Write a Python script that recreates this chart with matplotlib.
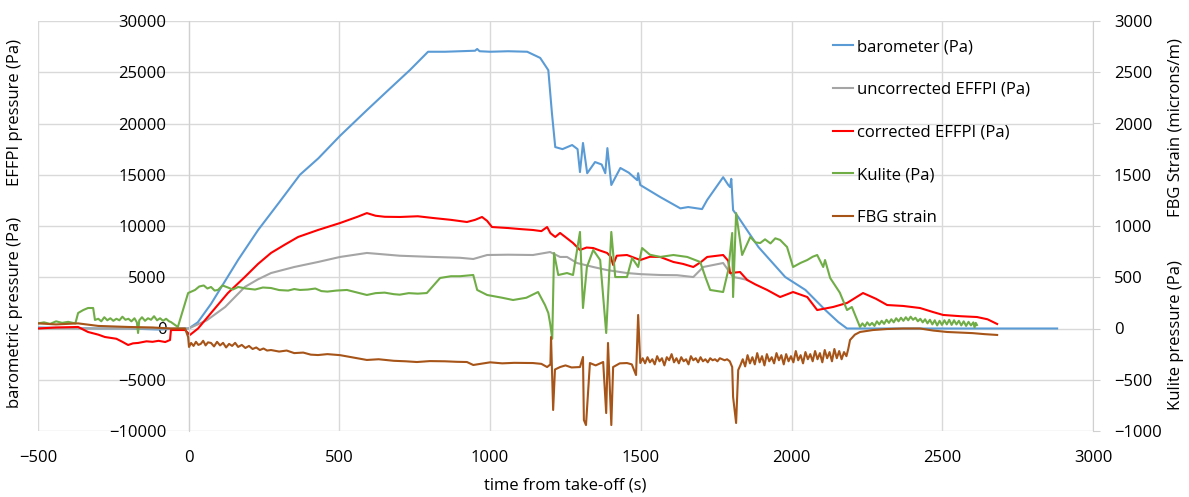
import matplotlib
matplotlib.use("Agg")
import matplotlib.pyplot as plt

plt.rcParams['font.family'] = ['Open Sans', 'DejaVu Sans']
plt.rcParams['font.size'] = 12

# (time from take-off [s], value) pairs
# left axis series in Pa
barometer = [(-500, 100), (-400, 50), (-300, 0), (-200, 0), (-100, -100), (-20, 0), (0, 0),
             (30, 600), (74, 2400), (120, 4600), (164, 6700), (230, 9600), (300, 12300),
             (356, 14490), (369, 15000), (430, 16600), (502, 18800), (591, 21300), (660, 23200),
             (734, 25220), (794, 27000), (850, 27000), (900, 27050), (950, 27100), (957, 27270),
             (965, 27050), (1000, 27000), (1060, 27050), (1123, 27000), (1166, 26400), (1193, 25200),
             (1205, 21000), (1216, 17700), (1240, 17500), (1272, 17900), (1290, 17500), (1298, 15260),
             (1308, 18100), (1322, 15150), (1348, 16240), (1370, 16000), (1382, 15150), (1389, 17600),
             (1402, 14000), (1432, 15660), (1460, 15200), (1488, 14470), (1491, 15150), (1498, 14000),
             (1564, 12830), (1631, 11720), (1657, 11850), (1703, 11650), (1720, 12540), (1773, 14760),
             (1790, 14000), (1796, 13800), (1800, 14600), (1806, 11550), (1823, 10880), (1890, 7950),
             (1979, 5020), (2046, 3760), (2112, 1800), (2155, 630), (2184, 0), (2500, 0), (2881, 0)]

uncorrected = [(-500, 0), (-250, 0), (0, 0), (60, 800), (121, 2100), (186, 4050), (230, 4800),
               (273, 5410), (350, 6000), (429, 6490), (502, 6980), (591, 7370), (700, 7100),
               (811, 6980), (900, 6900), (944, 6780), (990, 7170), (1060, 7200), (1142, 7170),
               (1199, 7460), (1232, 6980), (1255, 6980), (1288, 6390), (1342, 6000), (1388, 5700),
               (1454, 5410), (1500, 5300), (1564, 5220), (1620, 5200), (1674, 5020), (1707, 6000),
               (1773, 6390), (1806, 5020), (1830, 4900), (1853, 4730)]

corrected = [(-500, 0), (-440, 100), (-367, 150), (-334, -340), (-300, -600), (-278, -830),
             (-240, -1000), (-220, -1300), (-201, -1610), (-185, -1450), (-168, -1410), (-140, -1250),
             (-120, -1300), (-100, -1200), (-78, -1320), (-62, -1120), (-59, -150), (-30, -150),
             (-12, -150), (4, -630), (31, 0), (74, 1510), (130, 3460), (186, 5020), (230, 6300),
             (273, 7370), (320, 8200), (363, 8930), (429, 9610), (502, 10290), (560, 10900),
             (591, 11260), (620, 11000), (650, 10900), (701, 10880), (760, 10950), (811, 10780),
             (870, 10600), (923, 10390), (950, 10600), (973, 10880), (990, 10500), (1006, 9900),
             (1060, 9800), (1100, 9700), (1142, 9610), (1170, 9500), (1189, 9900), (1200, 9300),
             (1216, 8930), (1232, 9320), (1255, 8800), (1275, 8340), (1298, 7660), (1320, 7900),
             (1342, 7850), (1365, 7600), (1388, 7370), (1400, 7000), (1408, 6200), (1420, 7100),
             (1454, 7170), (1498, 6680), (1530, 7000), (1564, 6980), (1608, 6490), (1640, 6300),
             (1674, 6000), (1700, 6500), (1720, 6980), (1773, 7170), (1790, 6600), (1796, 5410),
             (1829, 5510), (1853, 4730), (1880, 4300), (1919, 3760), (1962, 3070), (2005, 3560),
             (2052, 3070), (2085, 1800), (2138, 2100), (2184, 2490), (2237, 3460), (2280, 2900),
             (2317, 2290), (2370, 2200), (2426, 2000), (2470, 1600), (2503, 1320), (2560, 1200),
             (2615, 1120), (2650, 900), (2682, 440)]

# right axis series
kulite = [(-500, 50), (-480, 60), (-460, 45), (-440, 70), (-420, 55), (-400, 65), (-376, 50),
          (-367, 151), (-350, 180), (-334, 200), (-317, 200), (-311, 83), (-300, 95), (-290, 70),
          (-280, 110), (-270, 80), (-260, 100), (-250, 75), (-240, 95), (-230, 80), (-220, 115),
          (-210, 85), (-200, 95), (-190, 70), (-180, 100), (-172, 60), (-168, -44), (-164, 80),
          (-155, 110), (-145, 75), (-135, 100), (-125, 85), (-115, 120), (-105, 80), (-95, 100),
          (-85, 75), (-75, 95), (-65, 70), (-59, 63), (-36, 15), (-19, 180), (-2, 346),
          (21, 376), (35, 410), (50, 420), (62, 390), (74, 405), (86, 370), (97, 376), (112, 420),
          (130, 400), (146, 380), (164, 405), (190, 390), (220, 380), (246, 400), (273, 395),
          (300, 375), (330, 370), (350, 385), (369, 376), (395, 380), (420, 390), (440, 365),
          (460, 360), (490, 370), (525, 376), (560, 350), (591, 327), (620, 345), (650, 350),
          (680, 335), (700, 330), (730, 345), (760, 340), (790, 346), (834, 493), (870, 510),
          (900, 510), (944, 522), (957, 376), (990, 327), (1040, 300), (1076, 278), (1120, 300),
          (1159, 356), (1182, 229), (1193, 151), (1199, 50), (1206, -100), (1212, 737),
          (1226, 522), (1255, 541), (1275, 522), (1298, 942), (1308, 200), (1321, 600),
          (1342, 766), (1365, 668), (1385, -44), (1402, 942), (1415, 502), (1454, 502),
          (1471, 688), (1491, 600), (1504, 785), (1530, 720), (1564, 698), (1608, 717),
          (1654, 698), (1697, 649), (1714, 502), (1730, 376), (1773, 356), (1790, 570),
          (1803, 932), (1806, 307), (1816, 1126), (1836, 717), (1863, 893), (1880, 840),
          (1896, 834), (1912, 870), (1930, 830), (1946, 880), (1962, 864), (1985, 795),
          (2005, 600), (2030, 640), (2052, 668), (2070, 700), (2085, 717), (2105, 600),
          (2111, 668), (2128, 493), (2160, 350), (2184, 180), (2200, 210), (2227, 15),
          (2235, 50), (2243, 20), (2251, 60), (2259, 30), (2267, 55), (2275, 25), (2283, 70),
          (2291, 40), (2299, 75), (2307, 45), (2315, 85), (2323, 55), (2331, 90), (2339, 60),
          (2347, 100), (2355, 70), (2363, 105), (2371, 75), (2379, 110), (2387, 80), (2395, 115),
          (2403, 85), (2411, 105), (2419, 70), (2427, 95), (2435, 60), (2443, 90), (2451, 50),
          (2459, 85), (2467, 40), (2475, 80), (2483, 30), (2491, 75), (2499, 35), (2507, 80),
          (2515, 40), (2523, 85), (2531, 35), (2539, 80), (2547, 40), (2555, 75), (2563, 30),
          (2571, 70), (2579, 25), (2587, 65), (2595, 30), (2603, 60), (2607, 10), (2611, 55),
          (2615, 34)]

fbg = [(-500, 50), (-440, 40), (-367, 50), (-300, 25), (-200, 15), (-120, 10), (-59, 0), (-12, 0),
       (-2, -83), (1, -180), (8, -141), (16, -170), (24, -130), (32, -160), (40, -150), (48, -120),
       (56, -165), (64, -135), (74, -141), (84, -175), (94, -130), (104, -165), (114, -140),
       (124, -185), (134, -150), (144, -170), (154, -140), (164, -180), (176, -160), (188, -190),
       (200, -170), (212, -200), (224, -185), (236, -210), (248, -195), (260, -215), (273, -210),
       (300, -225), (325, -215), (350, -240), (380, -235), (405, -255), (429, -259), (460, -250),
       (502, -260), (540, -280), (591, -307), (630, -300), (680, -315), (720, -320), (757, -327),
       (800, -318), (850, -320), (890, -325), (923, -327), (944, -356), (1000, -330),
       (1040, -340), (1080, -335), (1142, -337), (1170, -345), (1189, -376), (1200, -350),
       (1202, -83), (1209, -795), (1215, -400), (1232, -376), (1250, -360), (1270, -380),
       (1298, -376), (1308, -278), (1311, -893), (1318, -942), (1331, -337), (1350, -360),
       (1375, -327), (1385, -825), (1391, -141), (1402, -942), (1408, -376), (1430, -340),
       (1454, -337), (1470, -350), (1484, -454), (1491, 132), (1498, -337), (1506, -290),
       (1514, -340), (1522, -280), (1530, -330), (1538, -300), (1546, -350), (1554, -270),
       (1562, -320), (1570, -290), (1578, -360), (1586, -280), (1594, -310), (1602, -250),
       (1610, -330), (1618, -290), (1626, -340), (1634, -280), (1642, -320), (1650, -300),
       (1658, -350), (1666, -270), (1674, -310), (1682, -290), (1690, -330), (1698, -280),
       (1706, -320), (1714, -300), (1722, -330), (1730, -290), (1738, -310), (1746, -300),
       (1754, -320), (1762, -290), (1770, -300), (1778, -310), (1786, -300), (1795, -320),
       (1803, -376), (1806, -668), (1816, -922), (1823, -405), (1830, -360), (1838, -300),
       (1846, -370), (1854, -260), (1862, -340), (1870, -280), (1878, -350), (1886, -240),
       (1894, -330), (1902, -270), (1910, -360), (1918, -250), (1926, -320), (1934, -280),
       (1942, -340), (1950, -240), (1958, -310), (1966, -260), (1974, -350), (1982, -250),
       (1990, -320), (1998, -270), (2006, -330), (2014, -220), (2022, -310), (2030, -260),
       (2038, -340), (2046, -230), (2054, -300), (2062, -250), (2070, -320), (2078, -220),
       (2086, -300), (2094, -240), (2102, -330), (2110, -210), (2118, -290), (2126, -230),
       (2134, -320), (2142, -200), (2150, -290), (2158, -220), (2166, -300), (2174, -230),
       (2182, -270), (2188, -200), (2194, -112), (2210, -60), (2227, -34), (2270, -15),
       (2317, -5), (2370, 0), (2426, 0), (2470, -20), (2516, -34), (2560, -40), (2600, -45),
       (2640, -55), (2682, -63)]

series_left = [("barometer (Pa)", barometer, "#5B9BD5"),
               ("uncorrected EFFPI (Pa)", uncorrected, "#A5A5A5"),
               ("corrected EFFPI (Pa)", corrected, "#FF0000")]
series_right = [("Kulite (Pa)", kulite, "#70AD47"),
                ("FBG strain", fbg, "#A65418")]

fig = plt.figure(figsize=(11.89, 4.97), dpi=100)
ax = fig.add_axes([38 / 1189, 66 / 497, 1055 / 1189, 410 / 497])
ax2 = ax.twinx()

handles = []
for label, data, color in series_left:
    t, v = zip(*data)
    l, = ax.plot(t, v, color=color, lw=1.5, label=label)
    handles.append(l)
for label, data, color in series_right:
    t, v = zip(*data)
    l, = ax2.plot(t, v, color=color, lw=1.5, label=label)
    handles.append(l)

ax.set_xlim(-500, 3000)
ax.set_ylim(-10000, 30000)
ax2.set_ylim(-1000, 3000)
ax.set_xticks(range(-500, 3001, 500))
ax.set_yticks(range(-10000, 30001, 5000))
ax2.set_yticks(range(-1000, 3001, 500))

ax.grid(True, color="#D9D9D9", lw=1)
ax.set_axisbelow(True)
for s in ["top", "right", "bottom"]:
    ax.spines[s].set_visible(False)
ax.spines["left"].set_position(("data", 0))
ax.spines["left"].set_color("#D0D0D0")
for s in ["top", "left", "bottom"]:
    ax2.spines[s].set_visible(False)
ax2.spines["right"].set_color("#D0D0D0")

ax.tick_params(axis="y", length=0, pad=16, labelsize=12)
ax.tick_params(axis="x", length=0, pad=14, labelsize=12)
ax2.tick_params(axis="y", length=5, color="#D0D0D0", pad=10, labelsize=12)

ax.set_xlabel("time from take-off (s)", fontsize=12, labelpad=8)
fig.text(15 / 1189, 1 - 112 / 497, "EFFPI pressure (Pa)", rotation=90, ha="center", va="center", fontsize=12)
fig.text(15 / 1189, 1 - 312 / 497, "barometric pressure (Pa)", rotation=90, ha="center", va="center", fontsize=12)
fig.text(1176 / 1189, 1 - 128 / 497, "FBG Strain (microns/m)", rotation=90, ha="center", va="center", fontsize=12)
fig.text(1176 / 1189, 1 - 335 / 497, "Kulite pressure (Pa)", rotation=90, ha="center", va="center", fontsize=12)

fig.legend(handles=handles, loc="upper left", bbox_to_anchor=(833 / 1189, 1 - 39 / 497),
           frameon=False, fontsize=12, handlelength=1.2, handletextpad=0.25,
           labelspacing=1.6, borderpad=0, borderaxespad=0)

fig.savefig("out.png", dpi=100)
